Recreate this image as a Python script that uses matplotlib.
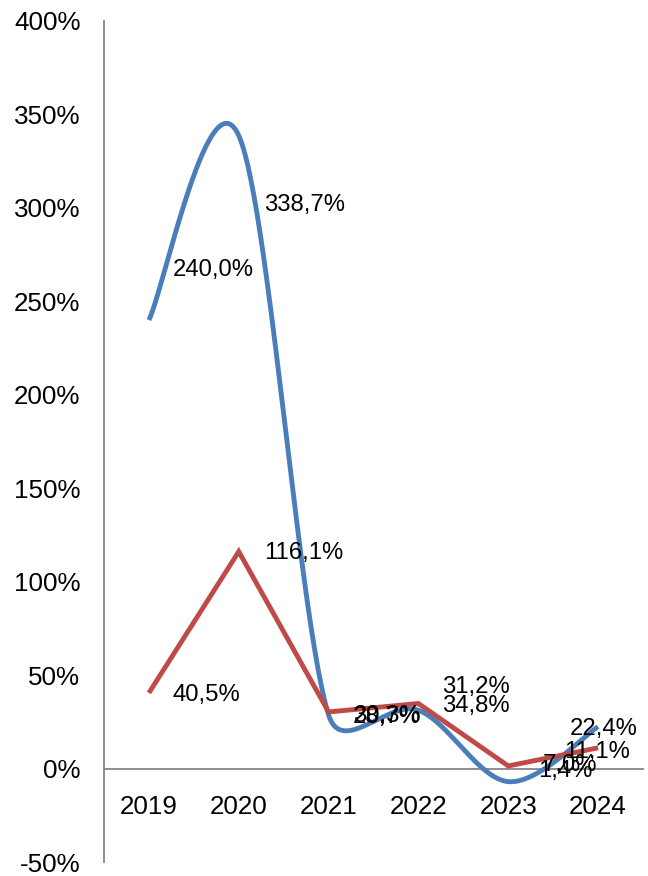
import matplotlib

matplotlib.use('Agg')

import matplotlib.pyplot as plt
import numpy as np
from matplotlib.ticker import FuncFormatter, MultipleLocator

years = ['2019', '2020', '2021', '2022', '2023', '2024']
blue_vals = [240.0, 338.7, 28.7, 31.2, -7.0, 22.4]
red_vals = [40.5, 116.1, 30.3, 34.8, 1.4, 11.1]
# the original shows the 2023 blue label without its minus sign
blue_labels = ['240,0%', '338,7%', '28,7%', '31,2%', '7,0%', '22,4%']
red_labels = ['40,5%', '116,1%', '30,3%', '34,8%', '1,4%', '11,1%']

# label offsets in pixels (dx to left edge, dy up) - hand placed like the original
blue_offsets = [(24, 50), (25, -69), (24, -2), (24, 23), (34, 17), (-28, -2)]
red_offsets = [(24, -2), (25, -1), (24, -4), (24, -2), (30, -5), (-34, -4)]

BLUE = '#4A7EBB'
RED = '#BE4B48'
GREY = '#868686'
FS_LABEL = 17.2
FS_TICK = 18.7

plt.rcParams['font.family'] = ['Liberation Sans', 'DejaVu Sans']

fig = plt.figure(figsize=(6.48, 8.76), dpi=100)
ax = fig.add_axes([104 / 648, 1 - 862 / 876, (643 - 104) / 648, (862 - 21) / 876])
ax.set_xlim(-0.5, len(years) - 0.5)
ax.set_ylim(-50, 400)

x = np.arange(len(years))


def excel_smooth(xs, ys, n=60):
    """Bezier smoothing in screen space, close to what Excel draws.

    Tangent at each point runs along next - prev; each control arm is
    |next - prev| / 6, but never longer than half of its own segment.
    """
    pts = ax.transData.transform(np.column_stack([xs, ys]))
    m = len(pts)
    c_in = np.zeros_like(pts)
    c_out = np.zeros_like(pts)
    for i in range(m):
        prev = pts[max(i - 1, 0)]
        nxt = pts[min(i + 1, m - 1)]
        d = nxt - prev
        dl = np.hypot(*d)
        u = d / dl if dl else d
        l_prev = np.hypot(*(pts[i] - prev))
        l_next = np.hypot(*(nxt - pts[i]))
        c_in[i] = pts[i] - u * min(dl / 6, l_prev / 2)
        c_out[i] = pts[i] + u * min(dl / 6, l_next / 2)
    out = [pts[0]]
    t = np.linspace(0, 1, n)[1:, None]
    for i in range(m - 1):
        p1, c1, c2, p2 = pts[i], c_out[i], c_in[i + 1], pts[i + 1]
        seg = ((1 - t) ** 3 * p1 + 3 * (1 - t) ** 2 * t * c1
               + 3 * (1 - t) * t ** 2 * c2 + t ** 3 * p2)
        out.extend(seg)
    return ax.transData.inverted().transform(np.array(out)).T


bx, by = excel_smooth(x, blue_vals)
ax.plot(bx, by, color=BLUE, linewidth=3.5, solid_capstyle='butt', zorder=3)
ax.plot(x, red_vals, color=RED, linewidth=3.5, solid_joinstyle='miter',
        solid_capstyle='butt', zorder=4)

for vals, labels, offs in ((blue_vals, blue_labels, blue_offsets),
                           (red_vals, red_labels, red_offsets)):
    for xi, v, lab, (dx, dy) in zip(x, vals, labels, offs):
        ax.annotate(lab, (xi, v), xytext=(dx, dy), textcoords='offset pixels',
                    ha='left', va='center', fontsize=FS_LABEL, color='black',
                    zorder=6)

for side in ('top', 'right'):
    ax.spines[side].set_visible(False)
ax.spines['left'].set_color(GREY)
ax.spines['left'].set_linewidth(1.3)
ax.spines['bottom'].set_position(('data', 0))
ax.spines['bottom'].set_color(GREY)
ax.spines['bottom'].set_linewidth(1.3)

ax.yaxis.set_major_locator(MultipleLocator(50))
ax.yaxis.set_major_formatter(FuncFormatter(lambda v, _: f'{int(round(v))}%'))
ax.set_xticks(x)
ax.set_xticklabels(years)
ax.tick_params(axis='y', length=0, pad=17, labelsize=FS_TICK)
ax.tick_params(axis='x', length=0, pad=19, labelsize=FS_TICK)

fig.savefig('out.png', dpi=100)
